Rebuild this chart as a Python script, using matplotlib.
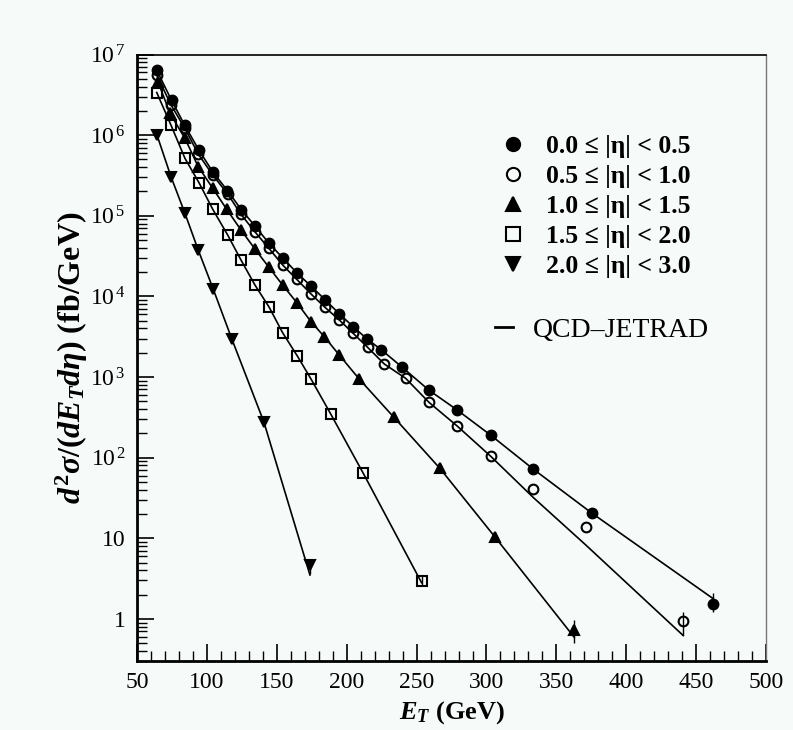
import numpy as np
import matplotlib.pyplot as plt
from matplotlib.lines import Line2D
from matplotlib.ticker import FixedLocator, FixedFormatter, LogLocator, NullFormatter, MultipleLocator

plt.rcParams['font.family'] = ['Liberation Serif', 'DejaVu Serif']
plt.rcParams['mathtext.fontset'] = 'custom'
plt.rcParams['mathtext.rm'] = 'Liberation Serif'
plt.rcParams['mathtext.it'] = 'Liberation Serif:italic:bold'
plt.rcParams['mathtext.bf'] = 'Liberation Serif:bold'

# inclusive jet cross section, one set per |eta| range
et_00 = [64.1, 74.7, 84.1, 94.3, 104.2, 114.7, 124.6, 134.4, 144.4, 154.6, 164.7, 174.5,
         184.5, 194.6, 204.7, 214.2, 224.7, 239.3, 258.8, 279.1, 303.0, 333.5, 375.7, 461.8]
xs_00 = [6.4e6, 2.7e6, 1.33e6, 6.5e5, 3.5e5, 2.05e5, 1.19e5, 7.45e4, 4.55e4, 2.96e4, 1.93e4, 1.34e4,
         9.1e3, 6.1e3, 4.2e3, 3.0e3, 2.18e3, 1.34e3, 687, 389, 190, 72, 20.3, 1.52]

et_05 = [64.1, 74.3, 84.3, 93.8, 104.2, 114.9, 124.4, 134.4, 144.4, 154.2, 164.2, 174.5,
         184.5, 194.7, 204.7, 215.0, 226.9, 242.2, 258.9, 279.1, 303.0, 333.5, 371.2, 440.8]
xs_05 = [5.57e6, 2.37e6, 1.21e6, 5.83e5, 3.2e5, 1.86e5, 1.04e5, 6.3e4, 3.93e4, 2.45e4, 1.63e4, 1.07e4,
         7.3e3, 5.1e3, 3.47e3, 2.33e3, 1.45e3, 962, 484, 246, 104, 40.5, 13.9, 0.93]

et_10 = [65.0, 73.6, 84.3, 93.8, 104.2, 114.2, 124.4, 134.4, 144.4, 154.2, 164.7, 174.5,
         184.0, 194.7, 209.0, 233.8, 266.7, 306.0, 362.8]
xs_10 = [4.6e6, 1.86e6, 9.1e5, 4.06e5, 2.19e5, 1.2e5, 6.65e4, 3.86e4, 2.29e4, 1.38e4, 8.2e3, 4.84e3,
         3.16e3, 1.87e3, 942, 316, 73.5, 10.4, 0.72]

et_15 = [64.1, 74.3, 84.3, 94.6, 104.2, 114.9, 124.4, 134.4, 144.6, 154.2, 164.7, 174.5,
         188.6, 211.9, 253.6]
xs_15 = [3.38e6, 1.33e6, 5.15e5, 2.52e5, 1.2e5, 5.75e4, 2.82e4, 1.38e4, 7.3e3, 3.53e3, 1.82e3, 942,
         347, 63.7, 2.96]

et_20 = [64.3, 74.3, 84.3, 93.8, 104.6, 117.7, 140.8, 173.7]
xs_20 = [1.0e6, 3.05e5, 1.07e5, 3.75e4, 1.22e4, 3.0e3, 275, 4.6]

# QCD-JETRAD prediction at the same ET points
th_00 = xs_00[:-1] + [1.8]
th_05 = xs_05[:-3] + [32, 8.2, 0.62]
th_10 = xs_10[:-1] + [0.59]
th_15 = xs_15[:-1] + [2.8]
th_20 = xs_20[:-1] + [3.5]

# errors on the highest ET point of each set (down, up)
err_00 = (0.31, 0.57)
err_05 = (0.30, 0.28)
err_10 = (0.22, 0.24)
err_15 = (0.36, 0.54)
err_20 = (1.0, 1.0)

labels = ['0.0 ≤ |η| < 0.5', '0.5 ≤ |η| < 1.0', '1.0 ≤ |η| < 1.5',
          '1.5 ≤ |η| < 2.0', '2.0 ≤ |η| < 3.0']

bg = '#f6faf8'
fig = plt.figure(figsize=(7.93, 7.30), dpi=100, facecolor=bg)
ax = fig.add_axes([0.1728, 0.0945, 0.7932, 0.8308], facecolor=bg)

sets = [
    (et_00, xs_00, th_00, err_00, 'o', 'k', 7.0),
    (et_05, xs_05, th_05, err_05, 'o', 'none', 7.0),
    (et_10, xs_10, th_10, err_10, '^', 'k', 7.0),
    (et_15, xs_15, th_15, err_15, 's', 'none', 7.0),
    (et_20, xs_20, th_20, err_20, 'v', 'k', 7.0),
]
handles = []
for et, xs, th, err, m, fc, ms in sets:
    ax.plot(et, th, '-', color='k', lw=1.2, zorder=2)
    ax.errorbar([et[-1]], [xs[-1]], yerr=[[err[0]], [err[1]]], fmt='none',
                ecolor='k', elinewidth=1.0, capsize=0, zorder=3)
    ax.plot(et, xs, ls='none', marker=m, ms=ms, mfc=fc, mec='k', mew=1.5, zorder=4)
    handles.append(Line2D([], [], ls='none', marker=m, ms=9.5, mfc=fc, mec='k', mew=1.5))

ax.set_yscale('log')
ax.set_xlim(50, 500)
ax.set_ylim(0.3, 1e7)

ax.xaxis.set_major_locator(MultipleLocator(50))
ax.xaxis.set_minor_locator(MultipleLocator(10))
ytick_vals = [1, 10, 1e2, 1e3, 1e4, 1e5, 1e6, 1e7]
ytick_txt = ['1', '10'] + [r'10$^{\,%d}$' % k for k in range(2, 8)]
ax.yaxis.set_major_locator(FixedLocator(ytick_vals))
ax.yaxis.set_major_formatter(FixedFormatter(ytick_txt))
ax.yaxis.set_minor_locator(LogLocator(base=10, subs=np.arange(2, 10), numticks=20))
ax.yaxis.set_minor_formatter(NullFormatter())

ax.tick_params(which='both', direction='in', top=False, right=False, labelsize=17, colors='k')
ax.tick_params(which='major', length=12, width=1.2, pad=8)
ax.tick_params(which='minor', length=7, width=1.0)

ax.spines['left'].set_linewidth(2.0)
ax.spines['bottom'].set_linewidth(2.0)
ax.spines['top'].set_linewidth(1.2)
ax.spines['right'].set_linewidth(1.0)
ax.spines['right'].set_color('#777777')

ax.set_xlabel(r'$E_T$ (GeV)', fontsize=19, fontweight='bold', labelpad=4)
ax.set_ylabel(r'$d^{\mathbf{2}}\sigma\mathbf{/(}dE_Td\eta\mathbf{)}$ (fb/GeV)',
              fontsize=23, fontweight='bold', labelpad=0)

leg1 = ax.legend(handles, labels, loc='upper left', bbox_to_anchor=(0.578, 0.867),
                 frameon=False, prop={'size': 18.5, 'weight': 'bold'},
                 handlelength=0.97, handletextpad=0.78, labelspacing=0.27,
                 borderpad=0, borderaxespad=0)
ax.add_artist(leg1)
qcd = Line2D([], [], color='k', lw=2.0)
ax.legend([qcd], ['QCD–JETRAD'], loc='upper left', bbox_to_anchor=(0.569, 0.567),
          frameon=False, prop={'size': 20}, handlelength=0.65, handletextpad=0.72,
          borderpad=0, borderaxespad=0)

fig.savefig('out.png', dpi=100, facecolor=bg)
